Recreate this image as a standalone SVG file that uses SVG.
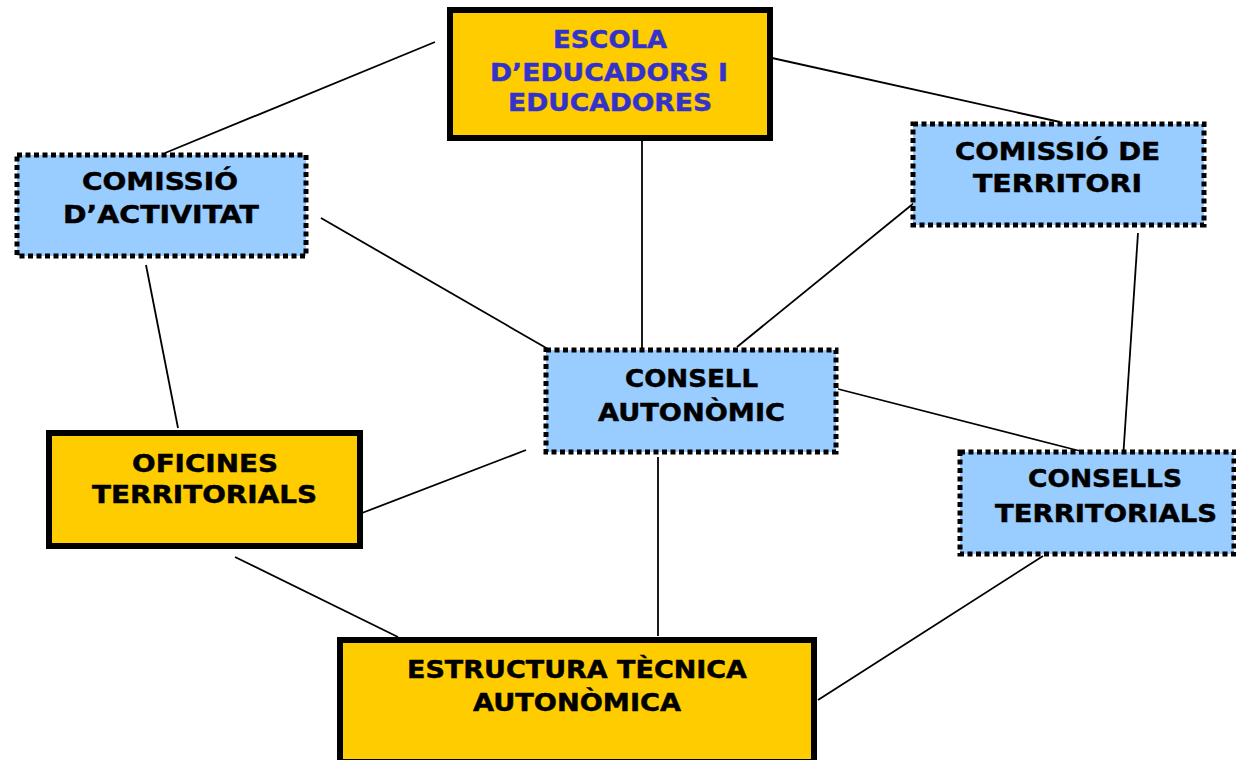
<svg xmlns="http://www.w3.org/2000/svg" width="1236" height="760" viewBox="0 0 1236 760">
<style>
.solid{fill:#FFCC00;stroke:#000;stroke-width:6}
.dot{fill:#99CCFF;stroke:#000;stroke-width:5;stroke-dasharray:5 3.5}
.t{font-family:"DejaVu Sans","Verdana",sans-serif;font-weight:bold;font-size:25.5px;fill:#000;stroke:#000;stroke-width:0.5;text-anchor:middle}
.blue{fill:#3333CC;stroke:#3333CC}
.ln{stroke:#000;stroke-width:1.8;fill:none}
</style>
<rect width="1236" height="760" fill="#fff"/>
<g id="connectors">
<line class="ln" x1="435" y1="42" x2="165" y2="153"/>
<line class="ln" x1="772" y1="58" x2="1060" y2="122"/>
<line class="ln" x1="642" y1="140" x2="642" y2="348"/>
<line class="ln" x1="321" y1="218" x2="548" y2="349"/>
<line class="ln" x1="914" y1="203" x2="737" y2="347"/>
<line class="ln" x1="838" y1="389" x2="1080" y2="451"/>
<line class="ln" x1="1138" y1="233" x2="1123" y2="459"/>
<line class="ln" x1="146" y1="265" x2="178" y2="428"/>
<line class="ln" x1="526" y1="450" x2="362" y2="513"/>
<line class="ln" x1="658" y1="457" x2="658" y2="636"/>
<line class="ln" x1="235" y1="557" x2="398" y2="637"/>
<line class="ln" x1="1043" y1="556" x2="818" y2="700"/>
</g>
<g id="escola">
<rect class="solid" x="450" y="10" width="320" height="128"/>
<text class="t blue" x="610" y="48" textLength="114" lengthAdjust="spacingAndGlyphs">ESCOLA</text>
<text class="t blue" x="609" y="81" textLength="238" lengthAdjust="spacingAndGlyphs">D’EDUCADORS I</text>
<text class="t blue" x="610" y="111" textLength="204" lengthAdjust="spacingAndGlyphs">EDUCADORES</text>
</g>
<g id="comissio-activitat">
<rect class="dot" x="17" y="155" width="289" height="101"/>
<text class="t" x="160" y="190" textLength="156" lengthAdjust="spacingAndGlyphs">COMISSIÓ</text>
<text class="t" x="161" y="223" textLength="196" lengthAdjust="spacingAndGlyphs">D’ACTIVITAT</text>
</g>
<g id="comissio-territori">
<rect class="dot" x="913" y="124" width="291" height="101"/>
<text class="t" x="1057.5" y="160" textLength="205" lengthAdjust="spacingAndGlyphs">COMISSIÓ DE</text>
<text class="t" x="1057.5" y="192" textLength="169" lengthAdjust="spacingAndGlyphs">TERRITORI</text>
</g>
<g id="consell-autonomic">
<rect class="dot" x="546" y="350" width="290" height="102"/>
<text class="t" x="691.5" y="387" textLength="133" lengthAdjust="spacingAndGlyphs">CONSELL</text>
<text class="t" x="691.5" y="421" textLength="187" lengthAdjust="spacingAndGlyphs">AUTONÒMIC</text>
</g>
<g id="consells-territorials">
<rect class="dot" x="960" y="452" width="274" height="102"/>
<text class="t" x="1105" y="487" textLength="154" lengthAdjust="spacingAndGlyphs">CONSELLS</text>
<text class="t" x="1106" y="522" textLength="222" lengthAdjust="spacingAndGlyphs">TERRITORIALS</text>
</g>
<g id="oficines-territorials">
<rect class="solid" x="49" y="433" width="311" height="113"/>
<text class="t" x="205" y="472" textLength="146" lengthAdjust="spacingAndGlyphs">OFICINES</text>
<text class="t" x="204.5" y="503" textLength="225" lengthAdjust="spacingAndGlyphs">TERRITORIALS</text>
</g>
<g id="estructura-tecnica">
<rect class="solid" x="340" y="640" width="474" height="122"/>
<text class="t" x="577" y="678" textLength="340" lengthAdjust="spacingAndGlyphs">ESTRUCTURA TÈCNICA</text>
<text class="t" x="577" y="711" textLength="208" lengthAdjust="spacingAndGlyphs">AUTONÒMICA</text>
</g>
</svg>
